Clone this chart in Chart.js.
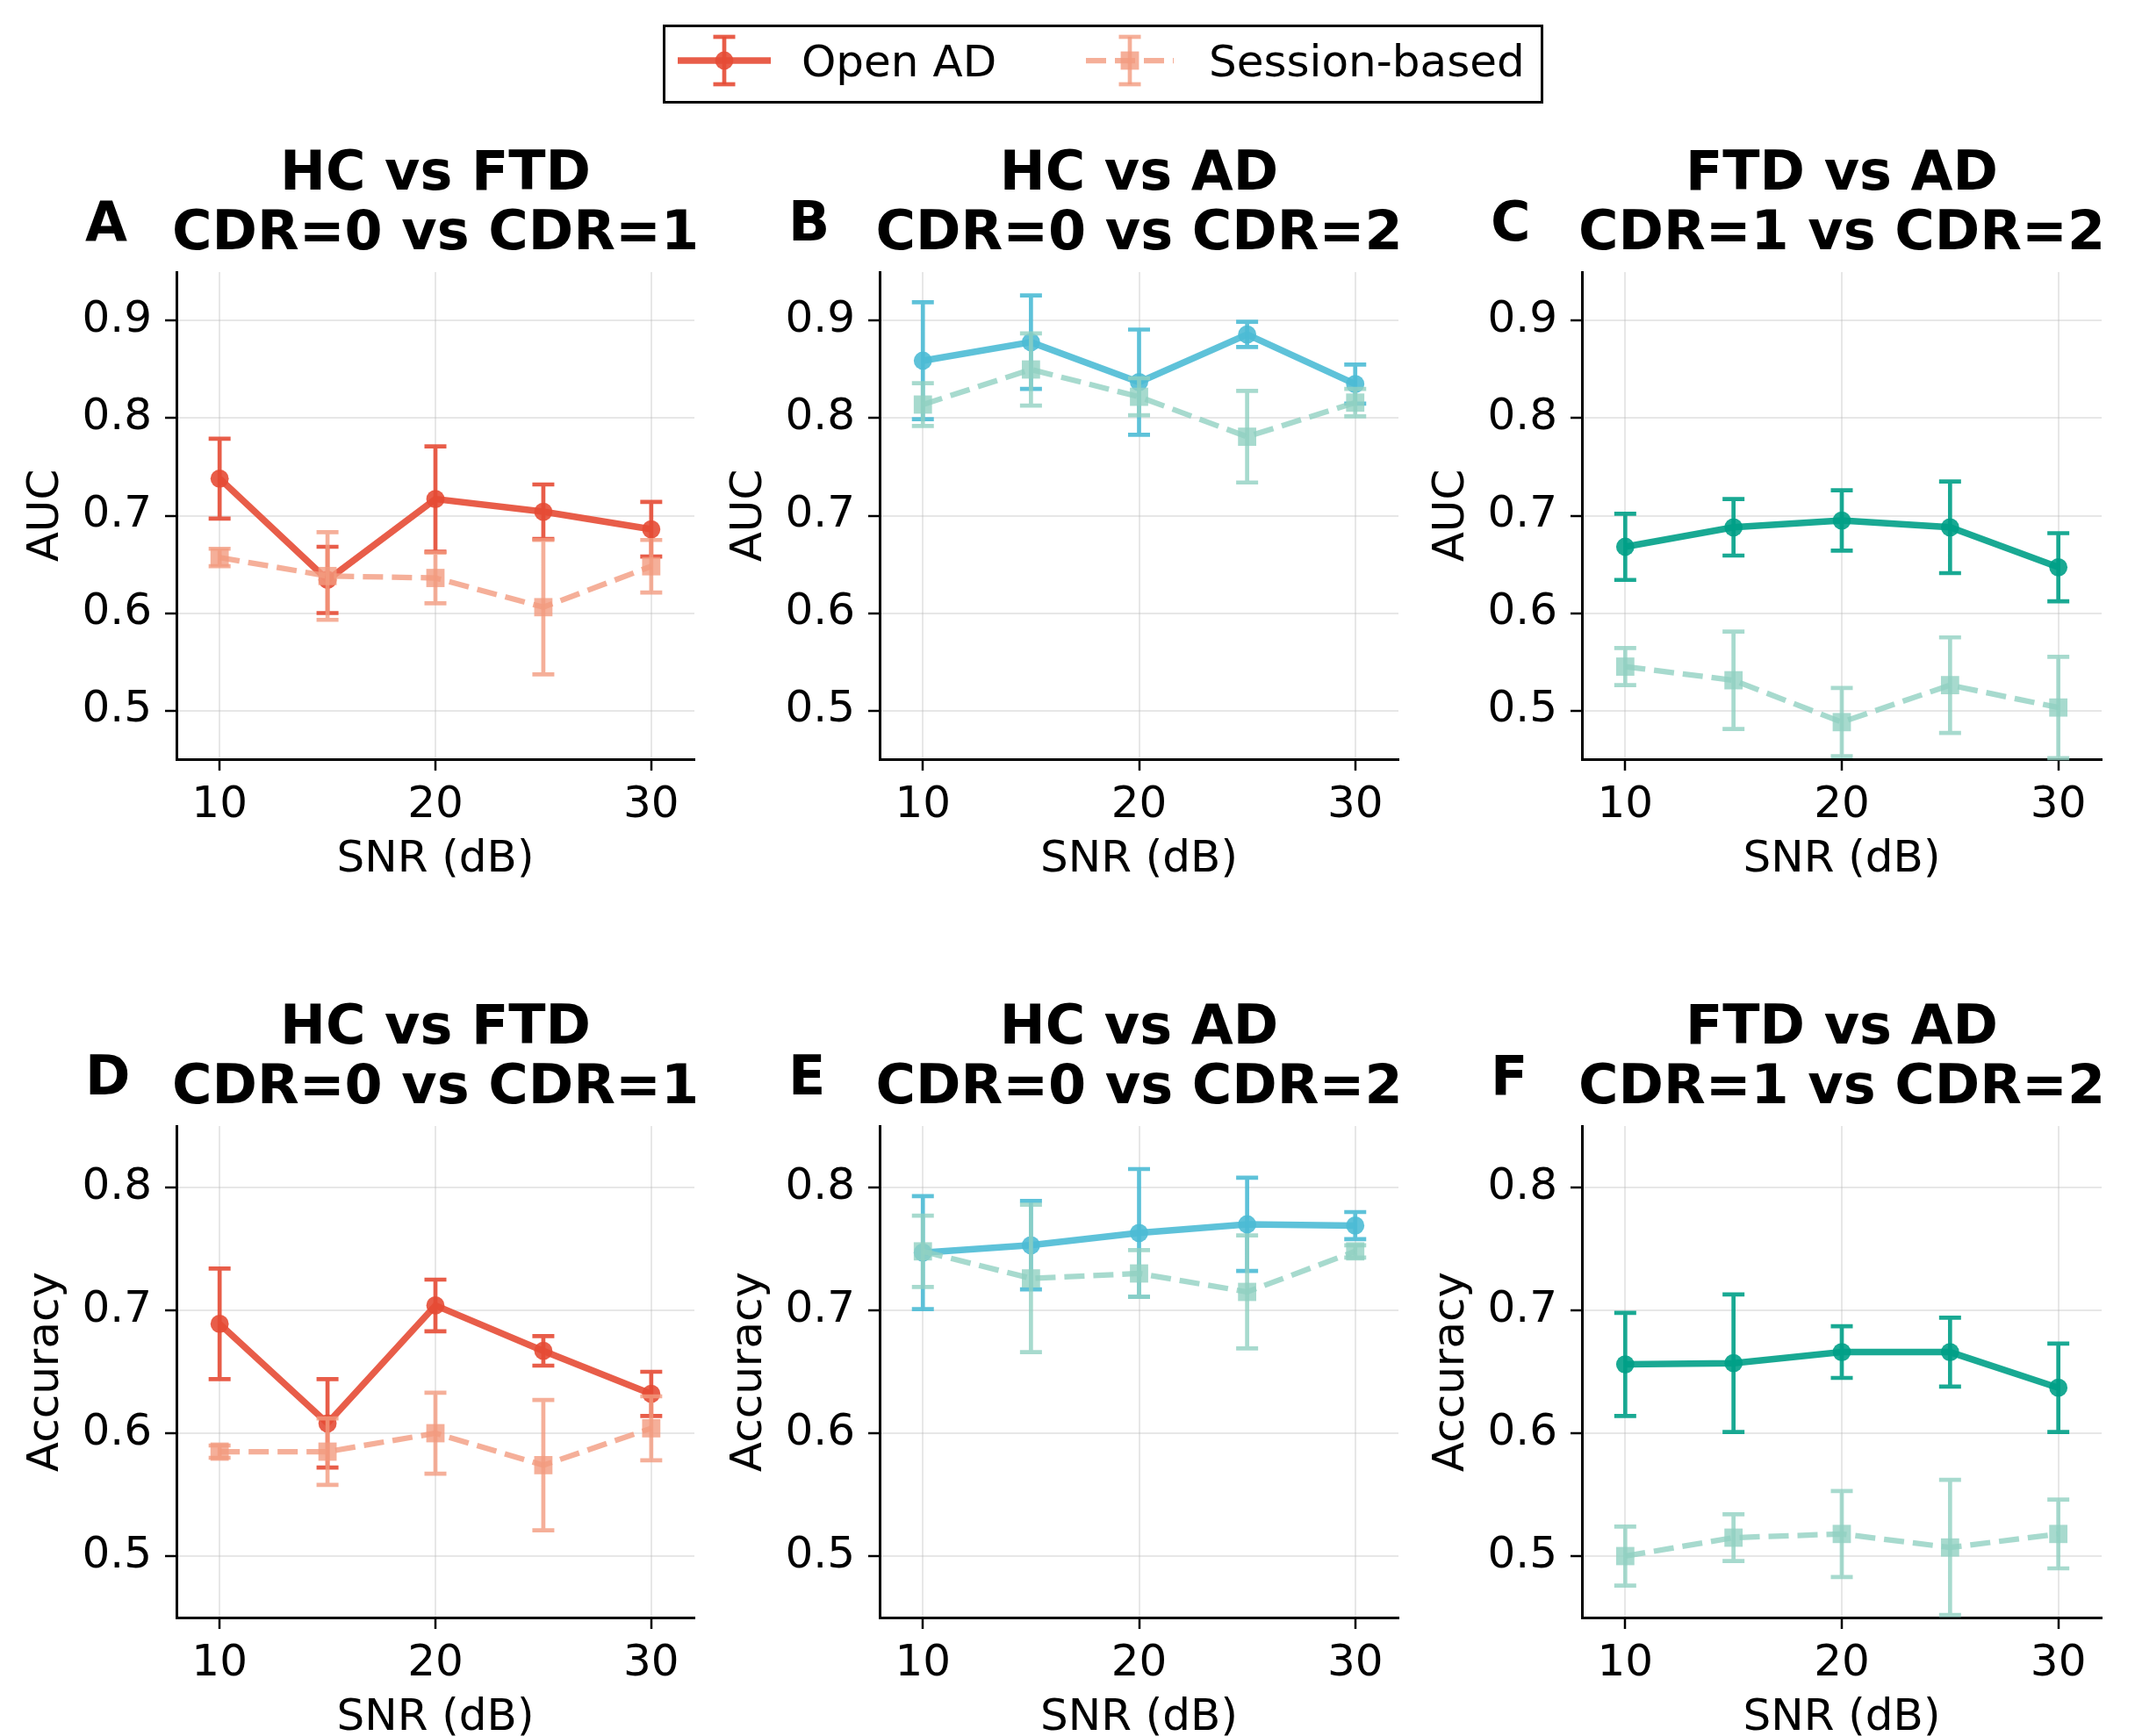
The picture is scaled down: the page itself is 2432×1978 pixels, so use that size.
<!DOCTYPE html>
<html>
<head>
<meta charset="utf-8">
<script src="https://cdn.jsdelivr.net/npm/chart.js@4.4.1/dist/chart.umd.min.js"></script>
<style>
  html, body { margin: 0; padding: 0; background: #fff; }
  body { width: 2432px; height: 1978px; position: relative; overflow: hidden; }
  canvas, svg { position: absolute; }
</style>
</head>
<body>
<svg id="legend" style="left:0;top:0" width="2432" height="130" font-family="DejaVu Sans">
  <rect x="756.5" y="29.5" width="1000" height="87" fill="#fff" stroke="#000" stroke-width="3"/>
  <g stroke="rgba(230,75,53,0.9)" stroke-width="7.5" fill="none">
    <line x1="772" y1="69" x2="878" y2="69"/>
    <line x1="825" y1="42" x2="825" y2="96" stroke-width="4.7"/>
    <line x1="812.5" y1="42" x2="837.5" y2="42" stroke-width="4.7"/>
    <line x1="812.5" y1="96" x2="837.5" y2="96" stroke-width="4.7"/>
  </g>
  <circle cx="825" cy="69" r="10.4" fill="rgba(230,75,53,0.9)"/>
  <text x="913" y="87" font-size="50">Open AD</text>
  <g stroke="rgba(243,155,127,0.8)" stroke-width="6.25" fill="none">
    <line x1="1237" y1="69" x2="1337" y2="69" stroke-dasharray="23 10"/>
    <line x1="1287" y1="42" x2="1287" y2="96" stroke-width="4.7"/>
    <line x1="1274.5" y1="42" x2="1299.5" y2="42" stroke-width="4.7"/>
    <line x1="1274.5" y1="96" x2="1299.5" y2="96" stroke-width="4.7"/>
  </g>
  <rect x="1276.6" y="58.6" width="20.8" height="20.8" fill="rgba(243,155,127,0.8)"/>
  <text x="1377" y="87" font-size="50">Session-based</text>
</svg>

<canvas id="pA"></canvas>
<canvas id="pB"></canvas>
<canvas id="pC"></canvas>
<canvas id="pD"></canvas>
<canvas id="pE"></canvas>
<canvas id="pF"></canvas>

<script>
// SNR levels (x) and tick labels
const snrDb = [10, 15, 20, 25, 30];
const snrTicks = [10, 20, 30];
const aucTicks = [0.5, 0.6, 0.7, 0.8, 0.9];
const accTicks = [0.5, 0.6, 0.7, 0.8];

// AUC - HC vs FTD
const aucOpenHcFtd = [0.738, 0.634, 0.717, 0.704, 0.686];
const aucOpenHcFtdErr = [0.041, 0.034, 0.054, 0.028, 0.028];
const aucSessHcFtd = [0.657, 0.638, 0.636, 0.606, 0.648];
const aucSessHcFtdErr = [0.009, 0.045, 0.026, 0.069, 0.027];

// AUC - HC vs AD
const aucOpenHcAd = [0.859, 0.878, 0.837, 0.886, 0.835];
const aucOpenHcAdErr = [0.060, 0.048, 0.054, 0.013, 0.020];
const aucSessHcAd = [0.814, 0.850, 0.822, 0.781, 0.816];
const aucSessHcAdErr = [0.022, 0.037, 0.019, 0.047, 0.014];

// AUC - FTD vs AD
const aucOpenFtdAd = [0.668, 0.688, 0.695, 0.688, 0.647];
const aucOpenFtdAdErr = [0.034, 0.029, 0.031, 0.047, 0.035];
const aucSessFtdAd = [0.545, 0.531, 0.488, 0.526, 0.503];
const aucSessFtdAdErr = [0.019, 0.050, 0.035, 0.049, 0.052];

// Accuracy - HC vs FTD
const accOpenHcFtd = [0.689, 0.608, 0.704, 0.667, 0.632];
const accOpenHcFtdErr = [0.045, 0.036, 0.021, 0.012, 0.018];
const accSessHcFtd = [0.585, 0.585, 0.600, 0.574, 0.604];
const accSessHcFtdErr = [0.005, 0.027, 0.033, 0.053, 0.026];

// Accuracy - HC vs AD
const accOpenHcAd = [0.747, 0.753, 0.763, 0.770, 0.769];
const accOpenHcAdErr = [0.046, 0.036, 0.052, 0.038, 0.011];
const accSessHcAd = [0.748, 0.726, 0.730, 0.715, 0.748];
const accSessHcAdErr = [0.029, 0.060, 0.019, 0.046, 0.005];

// Accuracy - FTD vs AD
const accOpenFtdAd = [0.656, 0.657, 0.666, 0.666, 0.637];
const accOpenFtdAdErr = [0.042, 0.056, 0.021, 0.028, 0.036];
const accSessFtdAd = [0.500, 0.515, 0.518, 0.507, 0.518];
const accSessFtdAdErr = [0.024, 0.019, 0.035, 0.055, 0.028];

const RED = "rgba(230,75,53,0.9)";
const SALMON = "rgba(243,155,127,0.8)";
const BLUE = "rgba(77,187,213,0.9)";
const GREEN = "rgba(0,160,135,0.9)";
const TEAL = "rgba(145,209,194,0.8)";
const GRID = "rgba(176,176,176,0.3)";

Chart.defaults.font.family = "DejaVu Sans";
Chart.defaults.color = "#000";

// vertical error bars with caps, drawn just before each dataset
const errorBars = {
  id: "errorBars",
  beforeDatasetDraw(chart, args) {
    const ds = chart.data.datasets[args.index];
    const xs = chart.scales.x, ys = chart.scales.y;
    const ctx = chart.ctx;
    ctx.save();
    ctx.strokeStyle = ds.borderColor;
    ctx.lineWidth = 4.7;
    ctx.setLineDash([]);
    ctx.beginPath();
    ds.data.forEach((p, i) => {
      const e = ds.errorBars[i];
      const px = xs.getPixelForValue(p.x);
      const top = ys.getPixelForValue(p.y + e);
      const bot = ys.getPixelForValue(p.y - e);
      ctx.moveTo(px, top); ctx.lineTo(px, bot);
      ctx.moveTo(px - 12.5, top); ctx.lineTo(px + 12.5, top);
      ctx.moveTo(px - 12.5, bot); ctx.lineTo(px + 12.5, bot);
    });
    ctx.stroke();
    ctx.restore();
  }
};

// panel letter and two-line bold title
const panelHeader = {
  id: "panelHeader",
  afterDraw(chart, args, opts) {
    const ctx = chart.ctx, a = chart.chartArea;
    ctx.save();
    ctx.fillStyle = "#000";
    ctx.font = 'bold 62px "DejaVu Sans"';
    ctx.textBaseline = "alphabetic";
    ctx.textAlign = "center";
    const cx = (a.left + a.right) / 2;
    ctx.fillText(opts.title[0], cx, a.top - 94);
    ctx.fillText(opts.title[1], cx, a.top - 26);
    ctx.textAlign = "left";
    ctx.fillText(opts.letter, a.left - 104, a.top - 36);
    ctx.restore();
  }
};

const pts = arr => snrDb.map((x, i) => ({ x: x, y: arr[i] }));

function makePanel(cfg) {
  const axLeft = cfg.axLeft, axTop = cfg.axTop, w = cfg.w, h = cfg.h;
  const canvas = document.getElementById(cfg.canvas);
  const cw = 810, ch = 200 + h + 150;
  canvas.width = cw; canvas.height = ch;
  canvas.style.left = (axLeft - 201) + "px";
  canvas.style.top = (axTop - 200) + "px";
  canvas.style.width = cw + "px";
  canvas.style.height = ch + "px";

  return new Chart(canvas.getContext("2d"), {
    type: "line",
    data: {
      datasets: [
        {
          label: "Open AD",
          data: pts(cfg.open),
          errorBars: cfg.openErr,
          borderColor: cfg.openColor,
          backgroundColor: cfg.openColor,
          borderWidth: 7.5,
          pointStyle: "circle",
          pointRadius: 10.4,
          pointBorderWidth: 0,
          order: 1
        },
        {
          label: "Session-based",
          data: pts(cfg.sess),
          errorBars: cfg.sessErr,
          borderColor: cfg.sessColor,
          backgroundColor: cfg.sessColor,
          borderWidth: 6.25,
          borderDash: [23, 10],
          pointStyle: "rect",
          pointRadius: 14.7,
          pointBorderWidth: 0,
          order: 0
        }
      ]
    },
    options: {
      responsive: false,
      animation: false,
      devicePixelRatio: 1,
      layout: { padding: { left: 0, top: 200, right: cw - 201 - w, bottom: 0 } },
      plugins: {
        legend: { display: false },
        tooltip: { enabled: false },
        panelHeader: { title: cfg.title, letter: cfg.letter }
      },
      scales: {
        x: {
          type: "linear",
          min: 8,
          max: 32,
          afterFit: s => { s.height = 150; },
          afterBuildTicks: s => { s.ticks = snrTicks.map(v => ({ value: v })); },
          grid: { color: GRID, lineWidth: 2, tickColor: "#000", tickWidth: 2.5, tickLength: 13 },
          border: { color: "#000", width: 3 },
          ticks: { font: { size: 50 }, padding: 10, maxRotation: 0, autoSkip: false },
          title: { display: true, text: "SNR (dB)", font: { size: 50 }, padding: { top: 0, bottom: 5 } }
        },
        y: {
          type: "linear",
          min: cfg.yMin,
          max: cfg.yMax,
          afterFit: s => { s.width = 201; },
          afterBuildTicks: s => { s.ticks = cfg.yTicks.map(v => ({ value: v })); },
          grid: { color: GRID, lineWidth: 2, tickColor: "#000", tickWidth: 2.5, tickLength: 13 },
          border: { color: "#000", width: 3 },
          ticks: { font: { size: 50 }, padding: 15, callback: v => v.toFixed(1) },
          title: { display: true, text: cfg.yLabel, font: { size: 50 }, padding: { top: 23, bottom: 0 } }
        }
      }
    },
    plugins: [errorBars, panelHeader]
  });
}

const colLeft = [201, 1002, 1802];
const colWidth = [590, 591, 592];
const rowTop = [310, 1283];
const rowHeight = [555, 560];

const panelSpecs = [
  { canvas: "pA", letter: "A", title: ["HC vs FTD", "CDR=0 vs CDR=1"], row: 0, col: 0, yLabel: "AUC",
    open: aucOpenHcFtd, openErr: aucOpenHcFtdErr, sess: aucSessHcFtd, sessErr: aucSessHcFtdErr, openColor: RED, sessColor: SALMON },
  { canvas: "pB", letter: "B", title: ["HC vs AD", "CDR=0 vs CDR=2"], row: 0, col: 1, yLabel: "AUC",
    open: aucOpenHcAd, openErr: aucOpenHcAdErr, sess: aucSessHcAd, sessErr: aucSessHcAdErr, openColor: BLUE, sessColor: TEAL },
  { canvas: "pC", letter: "C", title: ["FTD vs AD", "CDR=1 vs CDR=2"], row: 0, col: 2, yLabel: "AUC",
    open: aucOpenFtdAd, openErr: aucOpenFtdAdErr, sess: aucSessFtdAd, sessErr: aucSessFtdAdErr, openColor: GREEN, sessColor: TEAL },
  { canvas: "pD", letter: "D", title: ["HC vs FTD", "CDR=0 vs CDR=1"], row: 1, col: 0, yLabel: "Accuracy",
    open: accOpenHcFtd, openErr: accOpenHcFtdErr, sess: accSessHcFtd, sessErr: accSessHcFtdErr, openColor: RED, sessColor: SALMON },
  { canvas: "pE", letter: "E", title: ["HC vs AD", "CDR=0 vs CDR=2"], row: 1, col: 1, yLabel: "Accuracy",
    open: accOpenHcAd, openErr: accOpenHcAdErr, sess: accSessHcAd, sessErr: accSessHcAdErr, openColor: BLUE, sessColor: TEAL },
  { canvas: "pF", letter: "F", title: ["FTD vs AD", "CDR=1 vs CDR=2"], row: 1, col: 2, yLabel: "Accuracy",
    open: accOpenFtdAd, openErr: accOpenFtdAdErr, sess: accSessFtdAd, sessErr: accSessFtdAdErr, openColor: GREEN, sessColor: TEAL }
];

panelSpecs.forEach(p => {
  const auc = p.row === 0;
  makePanel(Object.assign({}, p, {
    axLeft: colLeft[p.col],
    w: colWidth[p.col],
    axTop: rowTop[p.row],
    h: rowHeight[p.row],
    yMin: 0.45,
    yMax: auc ? 0.95 : 0.85,
    yTicks: auc ? aucTicks : accTicks
  }));
});
</script>
</body>
</html>
